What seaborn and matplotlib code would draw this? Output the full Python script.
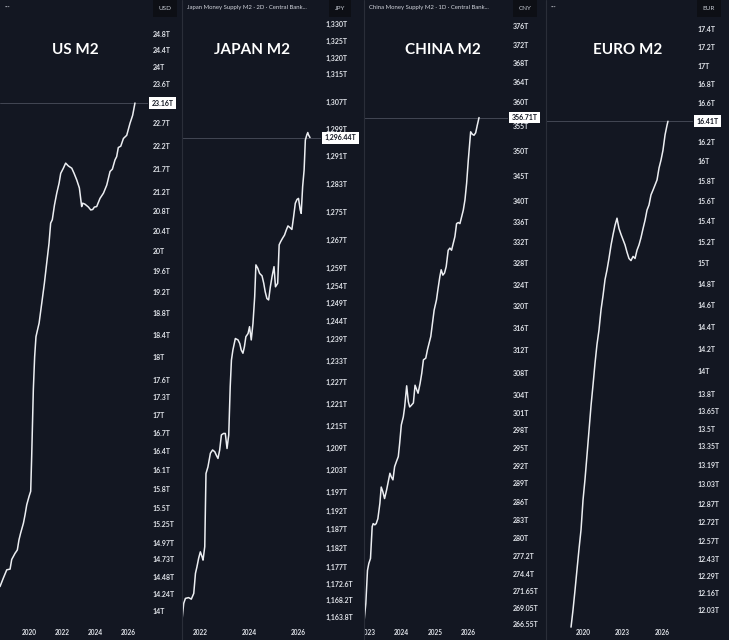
import numpy as np
import pandas as pd
import matplotlib
matplotlib.use("Agg")
import matplotlib.pyplot as plt
import seaborn as sns
from matplotlib.lines import Line2D
from matplotlib.ticker import FixedLocator, NullLocator, NullFormatter

# ---------------- data (T = trillions, local currency) ----------------
us_year = [2018.24, 2018.44, 2018.65, 2018.85, 2018.95, 2019.15, 2019.29, 2019.39, 2019.49, 2019.66,
           2019.76, 2019.86, 2020.00, 2020.10, 2020.16, 2020.26, 2020.34, 2020.42, 2020.51, 2020.61,
           2020.77, 2020.93, 2021.07, 2021.21, 2021.31, 2021.41, 2021.54, 2021.68, 2021.82, 2021.92,
           2022.08, 2022.22, 2022.38, 2022.59, 2022.73, 2022.89, 2023.05, 2023.19, 2023.25, 2023.39,
           2023.60, 2023.74, 2023.86, 2023.96, 2024.10, 2024.30, 2024.51, 2024.71, 2024.91, 2025.05,
           2025.21, 2025.31, 2025.41, 2025.56, 2025.72, 2025.92, 2026.12, 2026.28, 2026.42]
us_m2 = [14.34, 14.46, 14.58, 14.59, 14.73, 14.82, 14.87, 15.02, 15.12, 15.27,
         15.40, 15.55, 15.68, 15.76, 16.31, 17.43, 18.01, 18.37, 18.49, 18.62,
         18.99, 19.37, 19.76, 20.15, 20.56, 20.63, 20.93, 21.18, 21.39, 21.60,
         21.71, 21.82, 21.76, 21.71, 21.60, 21.46, 21.29, 20.90, 20.97, 20.95,
         20.89, 20.83, 20.84, 20.89, 20.90, 21.07, 21.18, 21.35, 21.64, 21.69,
         21.89, 21.96, 22.16, 22.19, 22.36, 22.43, 22.70, 22.88, 23.16]

jp_year = [2021.25, 2021.32, 2021.39, 2021.52, 2021.63, 2021.73, 2021.80, 2021.86, 2021.93,
           2022.00, 2022.07, 2022.11, 2022.18, 2022.23, 2022.31, 2022.41, 2022.50, 2022.59, 2022.65,
           2022.72, 2022.79, 2022.86, 2022.95, 2023.02, 2023.09, 2023.16, 2023.22, 2023.27, 2023.33,
           2023.43, 2023.54, 2023.61, 2023.67, 2023.74, 2023.80, 2023.86, 2023.95, 2024.01, 2024.08,
           2024.15, 2024.22, 2024.27, 2024.35, 2024.42, 2024.52, 2024.59, 2024.65, 2024.72, 2024.79,
           2024.86, 2024.93, 2025.01, 2025.07, 2025.16, 2025.22, 2025.28, 2025.36, 2025.44, 2025.51,
           2025.58, 2025.65, 2025.74, 2025.81, 2025.88, 2025.95, 2026.01, 2026.08, 2026.12, 2026.18,
           2026.24, 2026.29, 2026.35, 2026.39, 2026.42, 2026.48]
jp_m2 = [1163.0, 1167.4, 1168.7, 1168.9, 1168.5, 1170.0, 1175.3, 1177.0, 1179.3,
         1181.0, 1179.7, 1178.8, 1182.4, 1202.0, 1203.8, 1207.5, 1208.4, 1207.9, 1207.0,
         1206.1, 1208.4, 1212.5, 1212.9, 1212.9, 1208.8, 1212.5, 1225.7, 1233.1, 1235.9,
         1239.1, 1238.7, 1237.7, 1235.9, 1235.0, 1236.8, 1239.6, 1240.5, 1242.4, 1238.7,
         1243.3, 1250.8, 1259.8, 1258.8, 1257.4, 1256.7, 1254.6, 1252.2, 1250.3, 1249.9,
         1253.6, 1256.5, 1259.3, 1253.6, 1254.6, 1265.5, 1266.4, 1267.4, 1268.3, 1269.7,
         1270.9, 1270.5, 1269.9, 1273.5, 1277.4, 1278.5, 1278.8, 1275.5, 1274.5, 1282.2,
         1287.0, 1295.7, 1297.2, 1297.9, 1297.2, 1296.44]

cn_year = [2022.89, 2022.94, 2022.99, 2023.03, 2023.08, 2023.13, 2023.16, 2023.21, 2023.25, 2023.30,
           2023.36, 2023.40, 2023.45, 2023.50, 2023.56, 2023.61, 2023.66, 2023.70, 2023.75, 2023.80,
           2023.85, 2023.91, 2023.95, 2024.00, 2024.06, 2024.10, 2024.16, 2024.21, 2024.25, 2024.30,
           2024.36, 2024.41, 2024.46, 2024.50, 2024.56, 2024.61, 2024.66, 2024.73, 2024.78, 2024.83,
           2024.88, 2024.93, 2024.98, 2025.05, 2025.09, 2025.15, 2025.19, 2025.24, 2025.29, 2025.34,
           2025.40, 2025.45, 2025.50, 2025.55, 2025.60, 2025.65, 2025.70, 2025.75, 2025.80, 2025.85,
           2025.90, 2025.95, 2026.00, 2026.07, 2026.12, 2026.17, 2026.22, 2026.27, 2026.32]
cn_m2 = [267.1, 269.7, 274.9, 276.0, 276.8, 281.9, 282.4, 282.2, 282.4, 283.2,
         285.7, 288.4, 287.6, 286.5, 287.9, 289.3, 290.7, 290.1, 289.6, 291.8,
         292.6, 293.5, 295.7, 298.9, 300.3, 302.0, 305.7, 302.9, 302.0, 302.3,
         302.7, 305.8, 305.0, 304.4, 306.1, 307.9, 310.3, 310.6, 312.1, 313.3,
         314.5, 316.9, 319.3, 321.2, 323.0, 325.5, 326.8, 325.8, 326.2, 327.4,
         330.5, 330.9, 330.5, 331.8, 333.1, 335.6, 335.8, 335.6, 336.9, 338.2,
         340.2, 343.5, 348.1, 353.8, 353.3, 353.1, 353.6, 355.2, 356.71]

eu_year = [2019.09, 2019.24, 2019.39, 2019.54, 2019.70, 2019.85, 2020.00, 2020.15, 2020.30, 2020.46,
           2020.61, 2020.76, 2020.91, 2021.06, 2021.21, 2021.37, 2021.52, 2021.67, 2021.82, 2021.97,
           2022.13, 2022.28, 2022.43, 2022.58, 2022.73, 2022.89, 2023.04, 2023.19, 2023.34, 2023.49,
           2023.64, 2023.80, 2023.95, 2024.10, 2024.25, 2024.40, 2024.56, 2024.71, 2024.86, 2025.01,
           2025.16, 2025.32, 2025.47, 2025.62, 2025.77, 2025.92, 2026.07, 2026.23, 2026.38, 2026.45]
eu_m2 = [11.90, 12.03, 12.18, 12.34, 12.51, 12.66, 12.90, 13.07, 13.27, 13.49,
         13.70, 13.88, 14.07, 14.24, 14.37, 14.56, 14.69, 14.84, 14.93, 15.04,
         15.17, 15.27, 15.36, 15.43, 15.33, 15.27, 15.22, 15.17, 15.10, 15.04,
         15.02, 15.06, 15.04, 15.12, 15.17, 15.24, 15.33, 15.41, 15.51, 15.56,
         15.66, 15.71, 15.76, 15.81, 15.93, 16.01, 16.11, 16.27, 16.37, 16.41]

us_ticks = [24.8, 24.4, 24, 23.6, 22.7, 22.2, 21.7, 21.2, 20.8, 20.4, 20, 19.6, 19.2, 18.8, 18.4,
            18, 17.6, 17.3, 17, 16.7, 16.4, 16.1, 15.8, 15.5, 15.25, 14.97, 14.73, 14.48, 14.24, 14]
jp_ticks = [1330, 1325, 1320, 1315, 1307, 1299, 1291, 1283, 1275, 1267, 1259, 1254, 1249, 1244,
            1239, 1233, 1227, 1221, 1215, 1209, 1203, 1197, 1192, 1187, 1182, 1177, 1172.6,
            1168.2, 1163.8]
cn_ticks = [376, 372, 368, 364, 360, 355, 350, 345, 340, 336, 332, 328, 324, 320, 316, 312, 308,
            304, 301, 298, 295, 292, 289, 286, 283, 280, 277.2, 274.4, 271.65, 269.05, 266.55]
eu_ticks = [17.4, 17.2, 17, 16.8, 16.6, 16.2, 16, 15.8, 15.6, 15.4, 15.2, 15, 14.8, 14.6, 14.4,
            14.2, 14, 13.8, 13.65, 13.5, 13.35, 13.19, 13.03, 12.87, 12.72, 12.57, 12.43, 12.29,
            12.16, 12.03]

us_years_ticks = [2020, 2022, 2024, 2026]
jp_years_ticks = [2022, 2024, 2026]
cn_years_ticks = [2023, 2024, 2025, 2026]
eu_years_ticks = [2020, 2023, 2026]

titles = ["US M2", "JAPAN M2", "CHINA M2", "EURO M2"]
currencies = ["USD", "JPY", "CNY", "EUR"]
last_labels = ["23.16T", "1,296.44T", "356.71T", "16.41T"]
headers = ["", "Japan Money Supply M2 · 2D · Central Bank...",
           "China Money Supply M2 · 1D · Central Bank...", ""]

# ---------------- style ----------------
BG = "#131722"
TXT = "#dfe2e8"
sns.set_theme(style="dark", rc={"axes.facecolor": BG, "figure.facecolor": BG,
                                "savefig.facecolor": BG})
plt.rcParams["font.family"] = ["Lato", "DejaVu Sans"]

W, H = 729, 640
fig = plt.figure(figsize=(W / 100, H / 100), dpi=100)

panels = [
    dict(x0=0, x1=148, tx=75, cx=165, xlim=(2018.24, 2027.21), ylim=(13.60, 25.65),
         year=us_year, val=us_m2, yt=us_ticks, xt=us_years_ticks, fmt=lambda v: f"{v:g}T"),
    dict(x0=182, x1=321, tx=252, cx=340, xlim=(2021.25, 2026.93), ylim=(1157.8, 1337.2),
         year=jp_year, val=jp_m2, yt=jp_ticks, xt=jp_years_ticks, fmt=lambda v: f"{v:,g}T"),
    dict(x0=364, x1=508, tx=443, cx=525, xlim=(2022.886, 2027.185), ylim=(264.11, 381.67),
         year=cn_year, val=cn_m2, yt=cn_ticks, xt=cn_years_ticks, fmt=lambda v: f"{v:g}T"),
    dict(x0=546, x1=693, tx=628, cx=709, xlim=(2017.19, 2028.35), ylim=(11.803, 17.724),
         year=eu_year, val=eu_m2, yt=eu_ticks, xt=eu_years_ticks, fmt=lambda v: f"{v:g}T"),
]

for i, p in enumerate(panels):
    ax = fig.add_axes([p["x0"] / W, 0, (p["x1"] - p["x0"]) / W, 1])
    ax.set_facecolor(BG)
    df = pd.DataFrame({"year": p["year"], "m2": p["val"]})
    sns.lineplot(data=df, x="year", y="m2", ax=ax, color="#eceef2", linewidth=1.1)
    ax.set_yscale("log")
    ax.set_ylim(*p["ylim"])
    ax.set_xlim(*p["xlim"])
    ax.set_xlabel("")
    ax.set_ylabel("")
    for s in ax.spines.values():
        s.set_visible(False)

    ax.yaxis.tick_right()
    ax.yaxis.set_major_locator(FixedLocator(p["yt"]))
    ax.set_yticklabels([p["fmt"](v) for v in p["yt"]])
    ax.yaxis.set_minor_locator(NullLocator())
    ax.yaxis.set_minor_formatter(NullFormatter())
    ax.tick_params(axis="y", length=0, pad=3.6, labelsize=5, labelcolor=TXT)
    for lbl in ax.get_yticklabels():
        lbl.set_fontweight("bold")

    ax.set_xticks(p["xt"])
    ax.set_xticklabels([str(y) for y in p["xt"]])
    ax.tick_params(axis="x", length=0, direction="in", pad=-8.2, labelsize=4.7, labelcolor=TXT)
    for t in ax.xaxis.get_major_ticks():
        t.label1.set_fontweight("bold")
        t.label1.set_clip_on(True)
        t.label1.set_clip_box(ax.bbox)
    ax.grid(False)

    last = p["val"][-1]
    ax.axhline(last, color="#4b4f5c", linewidth=0.6, zorder=1)
    ax.annotate(last_labels[i], xy=(1, last), xycoords=("axes fraction", "data"),
                xytext=(2.6, 0), textcoords="offset points", ha="left", va="center",
                fontsize=5, fontweight="bold", color="#131722", annotation_clip=False,
                zorder=10, bbox=dict(boxstyle="square,pad=0.35", fc="white", ec="none"))

    fig.text(p["tx"] / W, 1 - 50 / H, titles[i], ha="center", va="center",
             fontsize=11, fontweight="bold", color="white")
    fig.text(p["cx"] / W, 1 - 8.5 / H, currencies[i], ha="center", va="center", fontsize=4.6,
             color="#c8ccd4",
             bbox=dict(boxstyle="square,pad=0.9", fc="#0d0f15", ec="none"))
    if headers[i]:
        fig.text((p["x0"] + 5) / W, 1 - 8 / H, headers[i], ha="left", va="center",
                 fontsize=4.3, color="#d1d4dc")
    else:
        fig.text((p["x0"] + 5) / W, 1 - 7 / H, "···", ha="left", va="center",
                 fontsize=5, color="#9598a1", fontweight="bold")

for xs in [181.5, 363.5, 545.5]:
    fig.add_artist(Line2D([xs / W, xs / W], [0, 1], transform=fig.transFigure,
                          color="#2a2e39", linewidth=0.8))

fig.savefig("out.png", dpi=100, facecolor=BG)
